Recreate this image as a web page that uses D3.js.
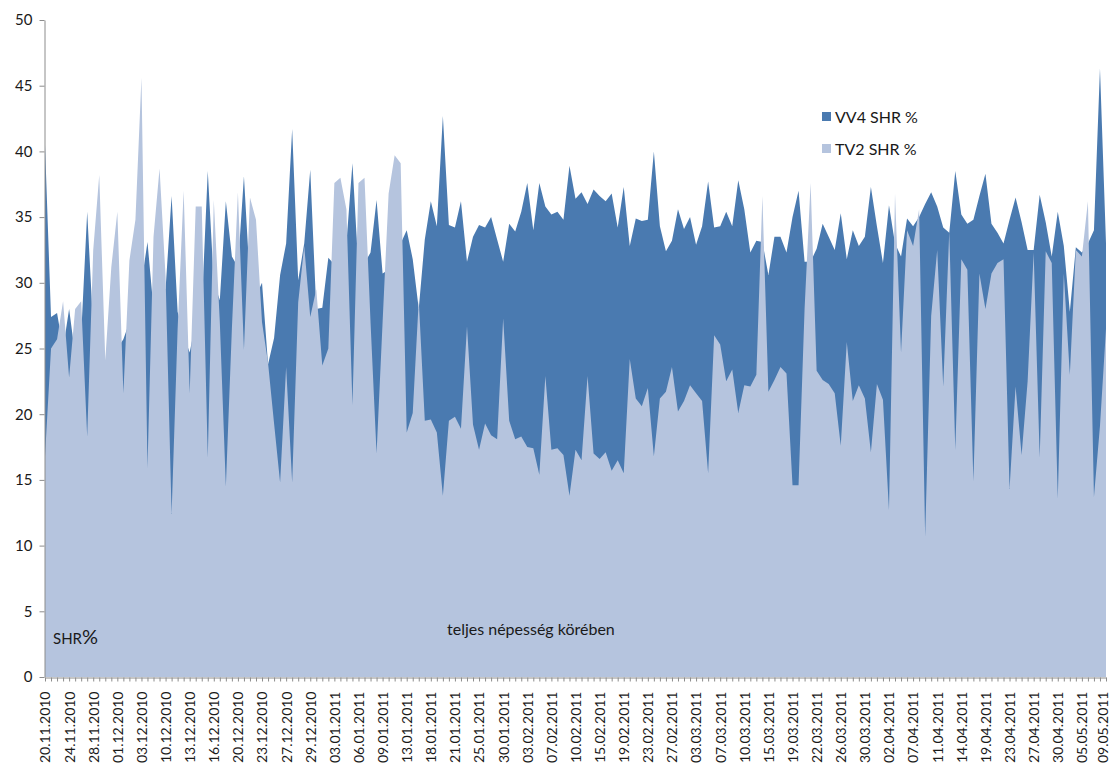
<!DOCTYPE html>
<html>
<head>
<meta charset="utf-8">
<script src="https://cdn.jsdelivr.net/npm/d3@7"></script>
<style>
    body { margin: 0; background: #fff; }
    text { font-family: Lato, "Open Sans", sans-serif; fill: #1a1a1a; }
</style>
</head>
<body>
<svg id="chart" width="1112" height="766"></svg>
<script>
// every 4th category carries a label
const tickLabels = ['20.11.2010', '24.11.2010', '28.11.2010', '01.12.2010', '03.12.2010', '10.12.2010',
    '13.12.2010', '16.12.2010', '20.12.2010', '23.12.2010', '27.12.2010', '29.12.2010', '03.01.2011',
    '06.01.2011', '09.01.2011', '13.01.2011', '18.01.2011', '21.01.2011', '25.01.2011', '30.01.2011',
    '03.02.2011', '07.02.2011', '10.02.2011', '15.02.2011', '19.02.2011', '23.02.2011', '27.02.2011',
    '03.03.2011', '07.03.2011', '10.03.2011', '15.03.2011', '19.03.2011', '22.03.2011', '26.03.2011',
    '30.03.2011', '02.04.2011', '07.04.2011', '11.04.2011', '14.04.2011', '19.04.2011', '23.04.2011',
    '27.04.2011', '30.04.2011', '05.05.2011', '09.05.2011'];

const vv4Share = [
    40.5, 27.4, 27.7, 25.0, 28.0, 24.5, 26.0, 35.4, 26.5, 28.0,
    23.5, 27.0, 25.0, 25.7, 27.0, 29.0, 30.0, 33.1, 28.0, 30.0,
    29.5, 36.6, 27.8, 26.0, 24.7, 27.0, 28.0, 38.5, 30.0, 28.7,
    36.2, 32.0, 31.2, 38.1, 30.0, 29.0, 30.0, 23.8, 25.8, 30.6,
    33.0, 41.7, 30.2, 33.0, 38.6, 28.0, 28.1, 31.9, 31.4, 32.0,
    33.0, 39.1, 31.0, 31.5, 32.3, 36.3, 30.7, 31.0, 32.0, 33.0,
    34.0, 31.8, 28.0, 33.3, 36.2, 34.3, 42.7, 34.4, 34.2, 36.2,
    31.6, 33.5, 34.4, 34.2, 35.0, 33.3, 31.6, 34.5, 33.9, 35.4,
    37.6, 34.0, 37.6, 35.8, 35.2, 35.4, 34.8, 38.9, 36.4, 36.9,
    36.0, 37.1, 36.6, 36.2, 36.8, 34.2, 37.3, 32.8, 34.9, 34.7,
    34.8, 40.0, 34.3, 32.4, 33.2, 35.6, 34.1, 35.0, 32.9, 34.3,
    37.7, 34.2, 34.3, 35.4, 34.3, 37.8, 35.6, 32.3, 33.2, 33.1,
    30.6, 33.5, 33.5, 32.3, 35.0, 37.0, 31.6, 31.6, 32.6, 34.5,
    33.5, 32.5, 35.3, 31.8, 34.0, 32.8, 33.5, 37.3, 34.3, 31.5,
    35.9, 33.0, 32.0, 34.9, 34.3, 35.0, 36.0, 36.9, 35.8, 34.2,
    33.8, 38.5, 35.2, 34.5, 34.8, 36.6, 38.3, 34.5, 33.8, 33.0,
    34.8, 36.5, 34.6, 32.5, 32.5, 36.7, 34.6, 32.0, 35.4, 32.8,
    27.8, 32.7, 32.3, 33.0, 34.0, 46.3, 33.0];

const tv2Share = [
    16.8, 25.0, 25.7, 28.6, 22.8, 28.0, 28.6, 18.3, 32.5, 38.2,
    24.1, 31.2, 35.4, 21.6, 31.7, 34.8, 45.6, 15.9, 33.5, 38.7,
    30.5, 12.4, 26.5, 37.0, 21.6, 35.8, 35.8, 16.7, 36.3, 27.0,
    14.5, 26.5, 36.9, 24.9, 36.5, 34.8, 27.0, 23.9, 19.3, 14.8,
    23.6, 14.8, 28.5, 32.8, 27.4, 29.5, 23.7, 25.0, 37.6, 38.0,
    35.6, 20.7, 37.6, 38.0, 27.0, 17.0, 27.0, 36.8, 39.7, 39.1,
    18.6, 20.1, 28.7, 19.5, 19.6, 18.6, 13.8, 19.5, 19.8, 18.9,
    26.7, 19.2, 17.3, 19.3, 18.4, 18.1, 27.3, 19.5, 18.1, 18.3,
    17.5, 17.4, 15.4, 22.9, 17.3, 17.4, 16.9, 13.8, 17.3, 16.5,
    22.9, 17.0, 16.6, 17.1, 15.7, 16.5, 15.5, 24.2, 21.2, 20.6,
    22.0, 16.8, 21.2, 21.7, 23.6, 20.2, 21.0, 22.2, 21.6, 21.0,
    15.5, 26.0, 25.3, 22.5, 23.4, 20.1, 22.2, 22.1, 23.0, 36.6,
    21.7, 22.6, 23.6, 23.1, 14.6, 14.6, 28.0, 37.6, 23.3, 22.6,
    22.3, 21.6, 17.6, 25.5, 21.0, 22.2, 21.2, 17.1, 22.3, 21.1,
    12.7, 36.8, 24.7, 34.0, 32.8, 35.6, 10.7, 27.5, 32.5, 22.1,
    33.9, 17.3, 31.8, 31.0, 14.9, 30.7, 28.0, 30.7, 31.5, 31.8,
    14.3, 22.1, 16.9, 22.5, 32.3, 16.7, 32.4, 31.5, 13.6, 30.7,
    23.0, 32.5, 32.0, 36.2, 13.7, 19.1, 26.5];

const seriesNames = ['VV4 SHR %', 'TV2 SHR %'];
const seriesColors = ['#4a7ab0', '#b5c4de'];
const yTicks = [0, 5, 10, 15, 20, 25, 30, 35, 40, 45, 50];

const categories = d3.range(vv4Share.length);

const svg = d3.select('#chart');
const margin = {left: 45, right: 1106, top: 20, bottom: 677};

const x = d3.scalePoint().domain(categories).range([margin.left, margin.right]);
const y = d3.scaleLinear().domain([0, 50]).range([margin.bottom, margin.top]);

const area = d3.area()
    .x((d, i) => x(i))
    .y0(y(0))
    .y1(d => y(d));

// VV4 drawn first, TV2 sits in front of it
[vv4Share, tv2Share].forEach((values, k) => {
    svg.append('path')
        .datum(values)
        .attr('fill', seriesColors[k])
        .attr('d', area);
});

// y axis
const yAxis = svg.append('g')
    .attr('transform', `translate(${margin.left - 0.5}, 0)`)
    .call(d3.axisLeft(y).tickValues(yTicks).tickSize(5).tickSizeOuter(0).tickPadding(7));
yAxis.select('.domain').attr('stroke', '#8c8c8c');
yAxis.selectAll('.tick line').attr('stroke', '#8c8c8c');
yAxis.selectAll('text')
    .style('font-family', 'Lato, sans-serif')
    .style('font-size', '15px')
    .attr('fill', '#1a1a1a');

// x axis
const lastIndex = categories.length - 1;
const xAxis = svg.append('g')
    .attr('transform', `translate(0, ${margin.bottom + 0.5})`)
    .call(d3.axisBottom(x)
        .tickSize(4)
        .tickSizeOuter(0)
        .tickFormat(i => i % 4 === 0 ? tickLabels[i / 4] : ''));
xAxis.select('.domain').attr('stroke', '#8c8c8c');
xAxis.selectAll('.tick line').attr('stroke', '#8c8c8c');
xAxis.selectAll('text')
    .attr('transform', 'rotate(-90)')
    .attr('x', -14)
    .attr('y', 0)
    // last label pulled in a little so it stays inside the picture
    .attr('dy', d => d === lastIndex ? '0.1em' : '0.35em')
    .style('text-anchor', 'end')
    .style('font-family', 'Lato, sans-serif')
    .style('font-size', '14px')
    .attr('fill', '#1a1a1a');

// legend
const legend = svg.append('g').attr('transform', 'translate(822, 112)');
seriesNames.forEach((name, k) => {
    legend.append('rect')
        .attr('x', 0)
        .attr('y', k * 32)
        .attr('width', 9)
        .attr('height', 9)
        .attr('fill', seriesColors[k]);
    legend.append('text')
        .attr('x', 13)
        .attr('y', k * 32 + 10.5)
        .attr('font-size', '16px')
        .text(name);
});

// notes inside the plot
svg.append('text')
    .attr('x', 53)
    .attr('y', 644)
    .attr('font-size', '15px')
    .text('SHR')
    .append('tspan')
    .attr('font-size', '20px')
    .text('%');

svg.append('text')
    .attr('x', 447)
    .attr('y', 635)
    .attr('font-size', '16px')
    .text('teljes népesség körében');
</script>
</body>
</html>
